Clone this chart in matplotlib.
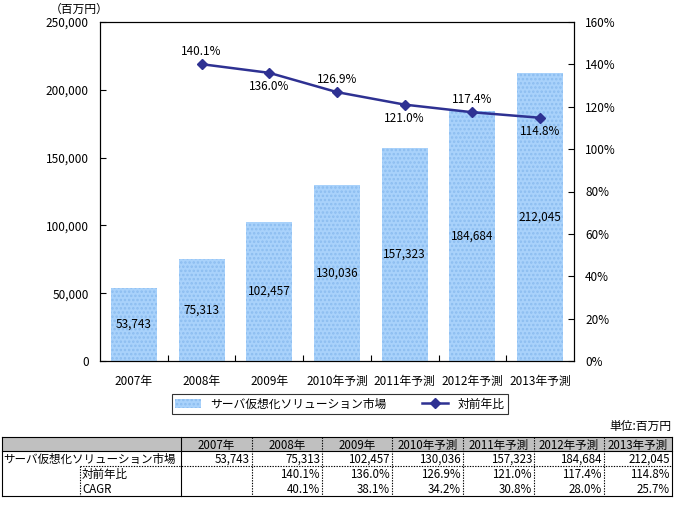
import matplotlib
matplotlib.use("Agg")
from matplotlib import pyplot as plt
from matplotlib.lines import Line2D
from matplotlib.patches import Patch, Rectangle
import numpy as np

plt.rcParams['font.family'] = ['Noto Sans CJK JP', 'DejaVu Sans']
plt.rcParams['hatch.linewidth'] = 1.2

# データ
years = ["2007年", "2008年", "2009年", "2010年予測", "2011年予測", "2012年予測", "2013年予測"]
market = [53743, 75313, 102457, 130036, 157323, 184684, 212045]
yoy = [None, 140.1, 136.0, 126.9, 121.0, 117.4, 114.8]
cagr = [None, 40.1, 38.1, 34.2, 30.8, 28.0, 25.7]
bar_name = "サーバ仮想化ソリューション市場"
line_name = "対前年比"

W, H = 674, 512
fig = plt.figure(figsize=(W / 100, H / 100), dpi=100)

def fx(x):
    return x / W

def fy(y):
    return 1 - y / H

# 軸の位置 (px)
L, R, T, B = 100, 574, 22, 361
ax = fig.add_axes([fx(L), fy(B), (R - L) / W, (B - T) / H])
x = np.arange(len(years))

bar_col = '#a9d2fb'
bars = ax.bar(x, market, width=0.68, color=bar_col, edgecolor='#8cbdf0',
              hatch='....', linewidth=0)
for xi, v in zip(x, market):
    ax.text(xi, v / 2, f"{v:,}", ha='center', va='center', fontsize=8.5)

ax.set_xlim(-0.5, len(years) - 0.5)
ax.set_ylim(0, 250000)
ax.set_yticks(range(0, 250001, 50000))
ax.set_yticklabels([f"{v:,}" for v in range(0, 250001, 50000)], fontsize=8.5)
ax.set_xticks(x)
ax.set_xticklabels(years, fontsize=8.5)
ax.tick_params(axis='x', length=0, pad=10)
ax.set_xticks(np.arange(0.5, len(years) - 0.5, 1), minor=True)
ax.tick_params(axis='x', which='minor', direction='in', length=4, width=0.8)
ax.tick_params(axis='y', direction='in', length=4, width=0.8, pad=8)
for s in ax.spines.values():
    s.set_linewidth(0.8)

ax2 = ax.twinx()
ax2.set_position([fx(L), fy(B), (R - L) / W, (B - T) / H])
lx = [xi for xi, v in zip(x, yoy) if v is not None]
ly = [v for v in yoy if v is not None]
line_col = '#2e3192'
ax2.plot(lx, ly, color=line_col, lw=1.8, marker='D', markersize=5.5)
for i, (xi, v) in enumerate(zip(lx, ly)):
    off = 9 if i % 2 == 0 else -10
    ax2.annotate(f"{v:.1f}%", (xi, v), xytext=(0, off), textcoords='offset points',
                 ha='center', va='center', fontsize=8.5)
ax2.set_ylim(0, 160)
ax2.set_yticks(range(0, 161, 20))
ax2.set_yticklabels([f"{v}%" for v in range(0, 161, 20)], fontsize=8.5)
ax2.tick_params(axis='y', direction='in', length=4, width=0.8, pad=8)
for s in ax2.spines.values():
    s.set_linewidth(0.8)

fig.text(fx(50), fy(9), "（百万円）", fontsize=8.5, va='center', ha='left')

handles = [Patch(facecolor=bar_col, edgecolor='#8cbdf0', hatch='....', linewidth=0),
           Line2D([0], [0], color=line_col, lw=1.8, marker='D', markersize=5.5)]
leg = ax.legend(handles, [bar_name, line_name], ncol=2, loc='center',
                bbox_to_anchor=(0.506, -0.127), fontsize=8.5, frameon=True,
                fancybox=False, edgecolor='black', handlelength=2.2,
                columnspacing=3.0, borderpad=0.3)
leg.get_frame().set_linewidth(0.8)

# 表
fig.text(fx(671), fy(426), "単位:百万円", fontsize=8.5, ha='right', va='center')
col_edges = [2, 181, 252, 322, 392, 463, 534, 604, 672]
fs = 8.3

fig.patches.append(Rectangle((fx(2), fy(451)), fx(670), 14 / H, transform=fig.transFigure,
                             facecolor='#c0c0c0', edgecolor='none'))

def hline(x0, x1, y, ls='-'):
    fig.add_artist(Line2D([fx(x0), fx(x1)], [fy(y), fy(y)], color='black', lw=0.8, ls=ls))

def vline(xp, y0, y1, ls='-'):
    fig.add_artist(Line2D([fx(xp), fx(xp)], [fy(y0), fy(y1)], color='black', lw=0.8, ls=ls))

dot = (0, (1.2, 1.2))
hline(2, 672, 437)
hline(2, 672, 451)
hline(80, 672, 466, dot)
hline(2, 672, 496)
vline(2, 437, 496)
vline(672, 437, 496)
vline(181, 437, 496)
vline(80, 466, 496, dot)
for xe in col_edges[2:-1]:
    vline(xe, 437, 496, dot)

for i, yl in enumerate(years):
    cx = (col_edges[i + 1] + col_edges[i + 2]) / 2
    fig.text(fx(cx), fy(445), yl, fontsize=fs, ha='center', va='center')
fig.text(fx(3), fy(459.5), bar_name, fontsize=fs, ha='left', va='center')
fig.text(fx(82), fy(474.5), line_name, fontsize=fs, ha='left', va='center')
fig.text(fx(82), fy(489.5), "CAGR", fontsize=fs, ha='left', va='center')
for i in range(len(years)):
    rx = col_edges[i + 2] - 2
    fig.text(fx(rx), fy(459.5), f"{market[i]:,}", fontsize=fs, ha='right', va='center')
    if yoy[i] is not None:
        fig.text(fx(rx), fy(474.5), f"{yoy[i]:.1f}%", fontsize=fs, ha='right', va='center')
    if cagr[i] is not None:
        fig.text(fx(rx), fy(489.5), f"{cagr[i]:.1f}%", fontsize=fs, ha='right', va='center')

fig.savefig("out.png", dpi=100)
